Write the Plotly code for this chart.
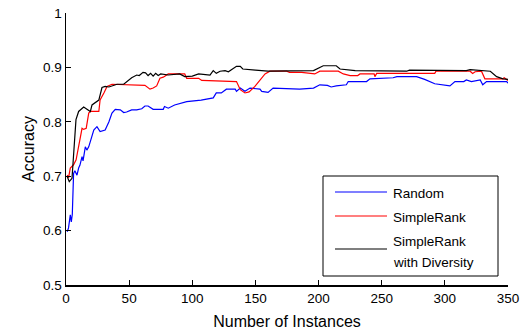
import plotly.graph_objects as go

# ---- data ----
random_x = [1, 2, 3.4, 4.2, 5, 6, 7, 8.7, 10, 11, 12.7, 13.5, 15.3, 16.5, 18, 20, 22, 24.5, 27, 31, 34, 36.4,
            39, 43, 45.7, 48, 52, 56, 60, 62.5, 65, 69, 77, 78, 81, 86, 95.6, 107, 116.6, 119, 123, 127, 134,
            135, 138, 141.7, 145.7, 153.6, 155, 160, 164, 185, 196, 201, 207, 210, 214, 222, 223.5, 238,
            240.7, 259, 262, 277.6, 284, 292, 304, 308, 315, 317, 321, 328, 330, 333, 349, 350]
random_y = [0.598, 0.605, 0.629, 0.616, 0.630, 0.705, 0.710, 0.702, 0.715, 0.720, 0.736, 0.728, 0.754, 0.748,
            0.754, 0.770, 0.785, 0.791, 0.782, 0.785, 0.800, 0.816, 0.823, 0.822, 0.817, 0.818, 0.822, 0.822,
            0.824, 0.829, 0.829, 0.823, 0.823, 0.828, 0.825, 0.831, 0.837, 0.840, 0.844, 0.853, 0.853, 0.860,
            0.860, 0.856, 0.862, 0.856, 0.862, 0.860, 0.856, 0.854, 0.862, 0.860, 0.862, 0.868, 0.867, 0.864,
            0.866, 0.868, 0.874, 0.874, 0.879, 0.881, 0.883, 0.883, 0.878, 0.870, 0.866, 0.874, 0.874, 0.877,
            0.874, 0.877, 0.868, 0.874, 0.874, 0.871]

simplerank_x = [1, 2, 3.4, 6, 8, 11.3, 12.7, 14, 16, 18, 19.3, 26, 27, 30, 32.5, 36.4, 46.7, 62.5, 66.5, 69,
                71.8, 74.4, 77, 81, 94, 95.6, 105, 107.5, 135, 138, 141.7, 145, 149.6, 157.6, 161.5, 174.7,
                177, 186.6, 197, 201, 215.6, 219.6, 225, 231, 232.8, 244, 244.6, 246, 258, 292, 293, 320,
                322, 324, 329, 331.7, 346, 347, 350]
simplerank_y = [0.702, 0.697, 0.715, 0.721, 0.730, 0.767, 0.788, 0.786, 0.788, 0.816, 0.819, 0.819, 0.840,
                0.853, 0.865, 0.869, 0.868, 0.867, 0.860, 0.862, 0.866, 0.880, 0.882, 0.888, 0.888, 0.880,
                0.880, 0.876, 0.874, 0.859, 0.853, 0.855, 0.865, 0.888, 0.893, 0.893, 0.891, 0.891, 0.888,
                0.893, 0.893, 0.888, 0.885, 0.885, 0.888, 0.888, 0.883, 0.889, 0.889, 0.889, 0.893, 0.893,
                0.889, 0.892, 0.893, 0.879, 0.879, 0.881, 0.876]

diversity_x = [1, 2.6, 4.75, 6, 7.9, 10, 14, 16.6, 19.3, 20.6, 24.5, 26, 28.5, 31, 34, 40.4, 45.7, 48, 52, 56,
               58, 61, 63, 65, 67, 69, 71, 73, 75, 81, 90, 94, 100, 105, 114, 116.6, 119, 122, 126, 128.6,
               131, 135, 138, 140, 150, 160, 196, 203.7, 214, 217, 229, 268, 269.7, 272, 317, 320, 328, 336,
               341, 346, 350]
diversity_y = [0.699, 0.690, 0.696, 0.740, 0.804, 0.819, 0.827, 0.823, 0.819, 0.831, 0.837, 0.840, 0.863,
               0.865, 0.864, 0.869, 0.869, 0.874, 0.881, 0.886, 0.885, 0.891, 0.890, 0.885, 0.889, 0.884,
               0.889, 0.885, 0.888, 0.886, 0.888, 0.883, 0.884, 0.888, 0.886, 0.894, 0.889, 0.893, 0.894,
               0.892, 0.896, 0.902, 0.902, 0.897, 0.895, 0.893, 0.894, 0.903, 0.903, 0.897, 0.894, 0.894,
               0.893, 0.895, 0.894, 0.896, 0.894, 0.893, 0.883, 0.879, 0.878]

x_ticks = [0, 50, 100, 150, 200, 250, 300, 350]
x_tick_labels = ["0", "50", "100", "150", "200", "250", "300", "350"]
y_ticks = [0.5, 0.6, 0.7, 0.8, 0.9, 1.0]
y_tick_labels = ["0.5", "0.6", "0.7", "0.8", "0.9", "1"]

series_names = ["Random", "SimpleRank", "SimpleRank with Diversity"]
series_colors = ["#0000ff", "#ff0000", "#000000"]
legend_text_lines = [["Random"], ["SimpleRank"], ["SimpleRank", "with Diversity"]]

FONT = "Liberation Sans, Arial, Helvetica, sans-serif"
FS = 13.5

FIG_W, FIG_H = 524, 330
# plot area in window pixels
L, R, B, T = 66, 508, 285, 13

fig = go.Figure()
for xs, ys, name, col in zip([random_x, simplerank_x, diversity_x],
                             [random_y, simplerank_y, diversity_y],
                             series_names, series_colors):
    fig.add_trace(go.Scatter(x=xs, y=ys, mode="lines", name=name,
                             line=dict(color=col, width=1.2), showlegend=False))

# ---- manual MATLAB-style legend (paper coordinates) ----
def px(xp):
    return (xp - L) / (R - L)
def py(yp):
    return (B - yp) / (B - T)

fig.add_shape(type="rect", xref="paper", yref="paper",
              x0=px(323), x1=px(498), y0=py(276), y1=py(176),
              line=dict(color="black", width=1), fillcolor="white", layer="above")
sample_rows = [192, 216, 249]
text_rows = [[193], [217.5], [241, 262]]
for col, ys_line, lines, rows in zip(series_colors, sample_rows, legend_text_lines, text_rows):
    fig.add_shape(type="line", xref="paper", yref="paper",
                  x0=px(335), x1=px(387), y0=py(ys_line), y1=py(ys_line),
                  line=dict(color=col, width=1.2), layer="above")
    for txt, yy in zip(lines, rows):
        fig.add_annotation(text=txt, xref="paper", yref="paper", x=px(391), y=py(yy),
                           xanchor="left", yanchor="middle", showarrow=False,
                           font=dict(family=FONT, size=FS, color="black"))

fig.update_layout(
    width=FIG_W, height=FIG_H,
    margin=dict(l=L, r=FIG_W - R, t=T, b=FIG_H - B, pad=0),
    paper_bgcolor="white", plot_bgcolor="white",
    font=dict(family=FONT, size=FS, color="black"),
    showlegend=False,
)
fig.update_xaxes(range=[0, 350], tickvals=x_ticks, ticktext=x_tick_labels, automargin=False,
                 ticklabeloverflow="allow",
                 showline=True, linecolor="black", linewidth=1.5, mirror=False,
                 ticks="inside", ticklen=5, tickcolor="black", showgrid=False, zeroline=False,
                 title=dict(text="Number of Instances", standoff=12))
fig.update_yaxes(range=[0.5, 1], tickvals=y_ticks, ticktext=y_tick_labels, automargin=False,
                 ticklabeloverflow="allow",
                 showline=True, linecolor="black", linewidth=1.5, mirror=False,
                 ticks="inside", ticklen=5, tickcolor="black", showgrid=False, zeroline=False,
                 title=dict(text="Accuracy", standoff=4))

fig.write_html("out.html", config={"displayModeBar": False, "staticPlot": True},
               post_script="document.body.style.margin='0';")
